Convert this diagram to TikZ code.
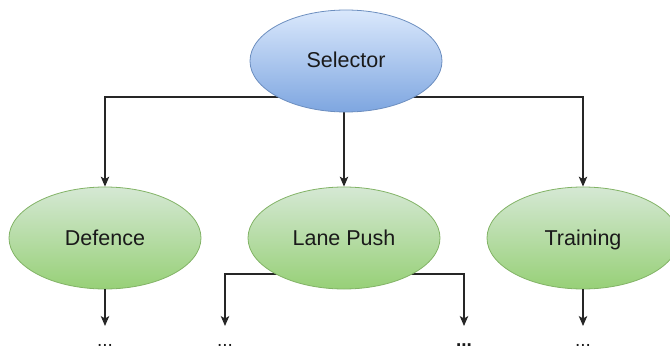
\documentclass[tikz,border=0pt]{standalone}
\usepackage{fontspec}
\setmainfont{Liberation Sans}
\usetikzlibrary{arrows.meta,calc,backgrounds,shapes.geometric}
\definecolor{blueTop}{HTML}{DAE8FC}
\definecolor{blueBot}{HTML}{7EA6E0}
\definecolor{blueLine}{HTML}{6C8EBF}
\definecolor{greenTop}{HTML}{D5E8D4}
\definecolor{greenBot}{HTML}{97D077}
\definecolor{greenLine}{HTML}{82B366}
\definecolor{inkText}{HTML}{1A1A1A}
\tikzset{
  state/.style={ellipse, draw, line width=0.8pt, inner sep=0pt,
    minimum width=192pt, minimum height=102pt,
    text height=15pt, text depth=1pt,
    font=\fontsize{21.5}{24}\selectfont, text=inkText},
  bluestate/.style={state, draw=blueLine, top color=blueTop, bottom color=blueBot},
  greenstate/.style={state, draw=greenLine, top color=greenTop, bottom color=greenBot},
  link/.style={draw=black!85, line width=1.1pt,
    -{Stealth[length=10pt,width=8.5pt,inset=2.5pt]}},
  more/.style={anchor=base, inner sep=0pt, font=\fontsize{19}{20}\selectfont, text=inkText},
}
\begin{document}
\begin{tikzpicture}[x=1pt,y=-1pt]
  \useasboundingbox (0,0) rectangle (670,350);
  \clip (0,0) rectangle (670,350);

  % tree nodes
  \node[bluestate]  (sel) at (346,61)  {Selector};
  \node[greenstate] (def) at (105,238) {Defence};
  \node[greenstate] (lp)  at (344,238) {Lane Push};
  \node[greenstate] (trn) at (583,238) {Training};

  % continuation marks
  \node[more] (d1) at (105,346) {...};
  \node[more] (d2) at (225,346) {...};
  \node[more,font=\fontsize{19}{20}\selectfont\bfseries] (d3) at (464,346) {...};
  \node[more] (d4) at (583,346) {...};

  % arrow ends above the marks
  \coordinate (e1) at (d1.base |- 0,326);
  \coordinate (e2) at (d2.base |- 0,326);
  \coordinate (e3) at (d3.base |- 0,326);
  \coordinate (e4) at (d4.base |- 0,326);

  \begin{scope}[on background layer]
    \coordinate (sj) at ($(sel.center)+(0,36)$);
    \draw[link] (sj) -| (def.north);
    \draw[link] (sj) -| (trn.north);
    \draw[link] (lp.north |- sel.center) -- (lp.north);
    \coordinate (lj) at ($(lp.center)+(0,36)$);
    \draw[link] (lj) -| (e2);
    \draw[link] (lj) -| (e3);
  \end{scope}
  \draw[link] (def) -- (e1);
  \draw[link] (trn) -- (e4);
\end{tikzpicture}
\end{document}
